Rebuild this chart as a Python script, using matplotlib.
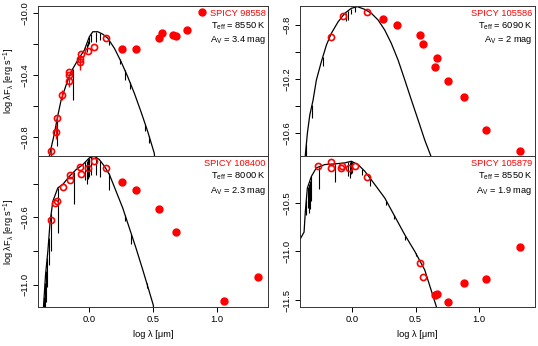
import numpy as np
import matplotlib
matplotlib.use('Agg')
import matplotlib.pyplot as plt

plt.rcParams['font.family'] = ['Liberation Sans', 'DejaVu Sans']
plt.rcParams['mathtext.fontset'] = 'custom'
plt.rcParams['mathtext.rm'] = 'Liberation Sans'
plt.rcParams['mathtext.it'] = 'Liberation Sans:italic'
plt.rcParams['mathtext.default'] = 'regular'

# ---- SPICY 98558 (arriba izquierda) ----
a_name, a_teff, a_av = 'SPICY 98558', 8550, '3.4'
a_open_x = [-0.300, -0.263, -0.250, -0.209, -0.154, -0.154, -0.154, -0.073, -0.068, -0.063, -0.008, 0.039, 0.135]
a_open_y = [-10.89, -10.766, -10.68, -10.53, -10.437, -10.40, -10.38, -10.318, -10.295, -10.266, -10.243, -10.217, -10.163]
a_open_err = [0.02, 0.05, 0.02, 0.03, 0.04, 0.0, 0.0, 0.05, 0.0, 0.0, 0.0, 0.0, 0.0]
a_fill_x = [0.26, 0.365, 0.545, 0.57, 0.66, 0.68, 0.763, 0.883]
a_fill_y = [-10.23, -10.23, -10.163, -10.131, -10.14, -10.146, -10.11, -9.994]
a_mod_x = [-0.32, -0.310, -0.271, -0.252, -0.219, -0.180, -0.141, -0.088, -0.037, 0.002, 0.029, 0.068,
           0.107, 0.146, 0.198, 0.25, 0.302, 0.354, 0.406, 0.459, 0.51, 0.52]
a_mod_y = [-11.0, -10.916, -10.776, -10.690, -10.561, -10.465, -10.379, -10.303, -10.239, -10.153, -10.121,
           -10.121, -10.137, -10.163, -10.228, -10.314, -10.411, -10.518, -10.637, -10.766, -10.905, -11.0]
a_spk_x = [-0.30, -0.25, -0.128, -0.03, -0.02, -0.01, 0.0, 0.016, 0.05, 0.086, 0.154, 0.24, 0.28, 0.32, 0.44, 0.47]
a_spk_y = [-10.93, -10.86, -10.56, -10.22, -10.25, -10.21, -10.20, -10.185, -10.19, -10.174, -10.206,
           -10.33, -10.43, -10.49, -10.76, -10.84]

# ---- SPICY 105586 (arriba derecha) ----
b_name, b_teff, b_av = 'SPICY 105586', 6090, '2'
b_open_x = [-0.165, -0.071, 0.12]
b_open_y = [-9.889, -9.731, -9.704]
b_fill_x = [0.246, 0.357, 0.538, 0.559, 0.672, 0.654, 0.753, 0.879, 1.055, 1.32]
b_fill_y = [-9.756, -9.798, -9.876, -9.943, -10.047, -10.111, -10.215, -10.333, -10.58, -10.733]
b_mod_x = [-0.375, -0.368, -0.352, -0.333, -0.307, -0.281, -0.242, -0.202, -0.163, -0.110, -0.057, -0.006,
           0.042, 0.100, 0.152, 0.205, 0.257, 0.309, 0.362, 0.415, 0.467, 0.520, 0.572, 0.620, 0.63]
b_mod_y = [-10.85, -10.763, -10.602, -10.467, -10.356, -10.207, -10.072, -9.948, -9.861, -9.776, -9.713, -9.676,
           -9.664, -9.684, -9.713, -9.763, -9.837, -9.936, -10.059, -10.207, -10.356, -10.504, -10.652, -10.77, -10.80]
b_spk_x = [-0.372, -0.366, -0.36, -0.315, -0.23, -0.05, -0.03, -0.01, 0.02]
b_spk_y = [-10.85, -10.85, -10.75, -10.49, -10.10, -9.77, -9.76, -9.72, -9.70]

# ---- SPICY 108400 (abajo izquierda) ----
c_name, c_teff, c_av = 'SPICY 108400', 8000, '2.3'
c_open_x = [-0.30, -0.268, -0.248, -0.203, -0.151, -0.151, -0.07, -0.065, -0.008, 0.039, 0.135]
c_open_y = [-10.618, -10.515, -10.503, -10.42, -10.378, -10.35, -10.299, -10.34, -10.31, -10.267, -10.31]
c_fill_x = [0.26, 0.365, 0.55, 0.68, 1.057, 1.32]
c_fill_y = [-10.388, -10.438, -10.553, -10.687, -11.097, -10.952]
c_mod_x = [-0.358, -0.357, -0.341, -0.323, -0.305, -0.284, -0.245, -0.205, -0.154, -0.102, -0.049, 0.002,
           0.041, 0.080, 0.12, 0.159, 0.211, 0.263, 0.315, 0.367, 0.42, 0.471, 0.502, 0.51]
c_mod_y = [-11.2, -11.129, -10.94, -10.802, -10.624, -10.505, -10.425, -10.404, -10.356, -10.317, -10.287,
           -10.247, -10.238, -10.257, -10.297, -10.346, -10.445, -10.544, -10.663, -10.782, -10.911, -11.04,
           -11.119, -11.17]
c_spk_x = [-0.352, -0.345, -0.338, -0.328, -0.315, -0.297, -0.245, -0.122, -0.03, -0.02, -0.01, 0.0, 0.016,
           0.05, 0.086, 0.154, 0.28, 0.33, 0.45]
c_spk_y = [-11.15, -11.15, -11.1, -11.01, -10.88, -10.80, -10.69, -10.52, -10.38, -10.40, -10.37, -10.36,
           -10.35, -10.35, -10.36, -10.435, -10.62, -10.76, -11.02]

# ---- SPICY 105879 (abajo derecha) ----
d_name, d_teff, d_av = 'SPICY 105879', 8550, '1.9'
d_open_x = [-0.268, -0.168, -0.165, -0.079, -0.084, -0.026, 0.021, 0.12, 0.538, 0.557]
d_open_y = [-10.117, -10.076, -10.135, -10.114, -10.135, -10.135, -10.121, -10.231, -11.117, -11.265]
d_fill_x = [0.651, 0.669, 0.756, 0.879, 1.055, 1.32]
d_fill_y = [-11.451, -11.434, -11.52, -11.324, -11.283, -10.958]
d_mod_x = [-0.42, -0.412, -0.378, -0.368, -0.352, -0.32, -0.281, -0.215, -0.136, -0.057, -0.006, 0.047, 0.1,
           0.179, 0.257, 0.336, 0.415, 0.494, 0.572, 0.664, 0.68]
d_mod_y = [-10.90, -10.88, -10.80, -10.587, -10.345, -10.225, -10.138, -10.104, -10.097, -10.087, -10.07,
           -10.104, -10.173, -10.31, -10.448, -10.638, -10.828, -11.0, -11.19, -11.57, -11.64]
d_spk_x = [-0.36, -0.35, -0.34, -0.333, -0.32, -0.262, -0.136, -0.03, -0.02, -0.01, 0.0, 0.079, 0.139,
           0.27, 0.33, 0.42, 0.5]
d_spk_y = [-10.62, -10.55, -10.60, -10.56, -10.48, -10.36, -10.28, -10.22, -10.24, -10.20, -10.19, -10.21,
           -10.33, -10.52, -10.66, -10.88, -11.05]

W, H = 538, 346
fig = plt.figure(figsize=(W / 100, H / 100), dpi=100)

FS = 6.7
ylab = r'log λF$_{λ}$ [erg s$^{-1}$]'


def panel(rect, mod_x, mod_y, spk_x, spk_y, open_x, open_y, fill_x, fill_y, name, teff, av,
          xlim, ylim, yticks, ylabels, bottom, left, open_err=None):
    ax = fig.add_axes([rect[0] / W, 1 - (rect[1] + rect[3]) / H, rect[2] / W, rect[3] / H])
    ax.plot(mod_x, mod_y, color='black', lw=0.9, zorder=2)
    # lineas de absorcion del modelo
    tops = np.interp(spk_x, mod_x, mod_y)
    ax.vlines(spk_x, spk_y, tops, color='black', lw=0.8, zorder=2)
    if open_err is not None:
        ax.errorbar(open_x, open_y, yerr=open_err, fmt='none', ecolor='red', elinewidth=1.0, zorder=3)
    ax.plot(open_x, open_y, 'o', ms=4.4, mfc='none', mec='red', mew=1.2, zorder=4)
    ax.plot(fill_x, fill_y, 'o', ms=5.0, color='red', mec='red', zorder=4)
    ax.set_xlim(*xlim)
    ax.set_ylim(*ylim)
    ax.set_yticks(yticks)
    ax.set_yticklabels(ylabels)
    ax.tick_params(axis='both', direction='out', length=3.6, width=0.7, labelsize=FS, pad=2.5)
    plt.setp(ax.get_yticklabels(), rotation=90, va='center')
    if bottom:
        ax.set_xticks([0.0, 0.5, 1.0])
        ax.set_xticklabels(['0.0', '0.5', '1.0'])
        ax.set_xlabel('log λ [μm]', fontsize=FS)
        ax.xaxis.set_label_coords(0.5, -0.155)
    else:
        ax.set_xticks([])
    if left:
        ax.set_ylabel(ylab, fontsize=FS)
        ax.yaxis.set_label_coords(-0.092, 0.5)
    for s in ax.spines.values():
        s.set_linewidth(0.7)
        s.set_color('#333333')
    ax.text(0.99, 0.953, name, transform=ax.transAxes, ha='right', va='center', color='red', fontsize=FS)
    ax.text(0.99, 0.867, r'T$_{eff}$ = %d K' % teff, transform=ax.transAxes, ha='right', va='center',
            fontsize=FS)
    ax.text(0.99, 0.776, r'A$_{V}$ = %s mag' % av, transform=ax.transAxes, ha='right', va='center',
            fontsize=FS)
    return ax


panel((38, 6, 230, 150.5), a_mod_x, a_mod_y, a_spk_x, a_spk_y, a_open_x, a_open_y, a_fill_x, a_fill_y,
      a_name, a_teff, a_av, (-0.40, 1.40), (-10.926, -9.955),
      [-10.8, -10.6, -10.4, -10.2, -10.0], ['−10.8', '', '−10.4', '', '−10.0'], False, True, a_open_err)
panel((300, 6, 235, 150.5), b_mod_x, b_mod_y, b_spk_x, b_spk_y, b_open_x, b_open_y, b_fill_x, b_fill_y,
      b_name, b_teff, b_av, (-0.41, 1.44), (-10.774, -9.659),
      [-10.6, -10.4, -10.2, -10.0, -9.8], ['−10.6', '', '−10.2', '', '−9.8'], False, False)
panel((38, 156.5, 230, 150.5), c_mod_x, c_mod_y, c_spk_x, c_spk_y, c_open_x, c_open_y, c_fill_x, c_fill_y,
      c_name, c_teff, c_av, (-0.40, 1.40), (-11.131, -10.239),
      [-11.0, -10.8, -10.6, -10.4], ['−11.0', '', '−10.6', ''], True, True)
panel((300, 156.5, 235, 150.5), d_mod_x, d_mod_y, d_spk_x, d_spk_y, d_open_x, d_open_y, d_fill_x, d_fill_y,
      d_name, d_teff, d_av, (-0.41, 1.44), (-11.572, -10.021),
      [-11.5, -11.0, -10.5], ['−11.5', '−11.0', '−10.5'], True, False)

fig.savefig('out.png', dpi=100)
